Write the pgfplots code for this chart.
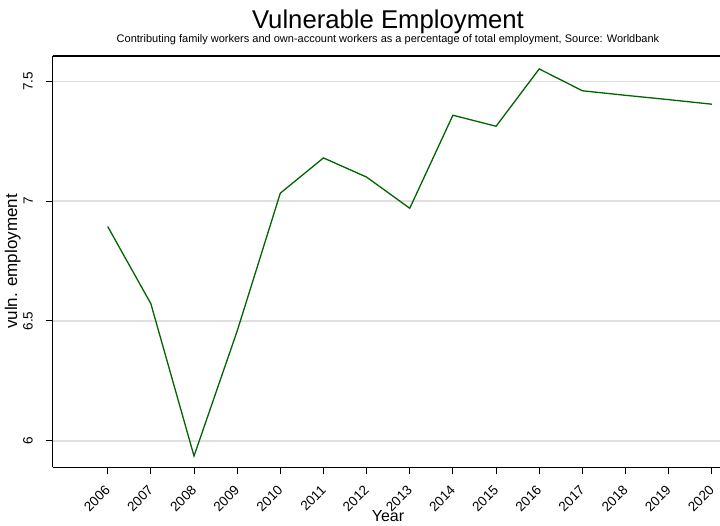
\documentclass[border=0pt]{standalone}
\usepackage{fontspec}
\setmainfont{Liberation Sans}
\usepackage{pgfplots}
\pgfplotsset{compat=1.18}
\definecolor{dkgreen}{RGB}{0,100,0}
\definecolor{gridgray}{RGB}{224,224,224}
\begin{document}
\begin{tikzpicture}[x=1pt,y=1pt]
\useasboundingbox (0,0) rectangle (720,526);
\begin{axis}[
  at={(52.7pt,58.7pt)}, anchor=south west,
  scale only axis, width=667.3pt, height=411.3pt,
  xmin=2004.725, xmax=2020.19, ymin=5.890, ymax=7.605,
  axis x line*=box, axis y line*=left,
  xtick={2006,2007,...,2020}, xtick pos=bottom,
  ytick={6,6.5,7,7.5}, ytick pos=left,
  tick align=outside, major tick length=7pt,
  ymajorgrids, grid style={gridgray, line width=1.2pt},
  axis line style={line width=1.1pt, black},
  every tick/.style={black, line width=1pt},
  /pgf/number format/assume math mode=true,
  /pgf/number format/1000 sep={},
  xticklabel shift=13.5pt, yticklabel shift=12.7pt,
  xticklabel style={rotate=45, anchor=east, inner sep=0pt, font=\fontsize{13.5}{16}\selectfont},
  yticklabel style={rotate=90, anchor=south, inner sep=0pt, font=\fontsize{13.5}{16}\selectfont},
  clip=false,
]
\addplot[dkgreen, line width=1.3pt] coordinates {
(2006,6.894) (2007,6.572) (2008,5.937) (2009,6.458) (2010,7.033)
(2011,7.180) (2012,7.100) (2013,6.970) (2014,7.358) (2015,7.312)
(2016,7.551) (2017,7.460) (2018,7.441) (2019,7.423) (2020,7.404)
};
\end{axis}
\node[anchor=base, font=\fontsize{25.7}{30}\selectfont] at (388,497.7) {Vulnerable Employment};
\node[anchor=base, font=\fontsize{11}{13}\selectfont] at (388,483.3) {Contributing family workers and own-account workers as a percentage of total employment, Source: Worldbank};
\node[anchor=base, rotate=90, font=\fontsize{17}{20}\selectfont] at (17,264.5) {vuln. employment};
\node[anchor=base, font=\fontsize{16}{19}\selectfont] at (388,4) {Year};
\end{tikzpicture}
\end{document}
